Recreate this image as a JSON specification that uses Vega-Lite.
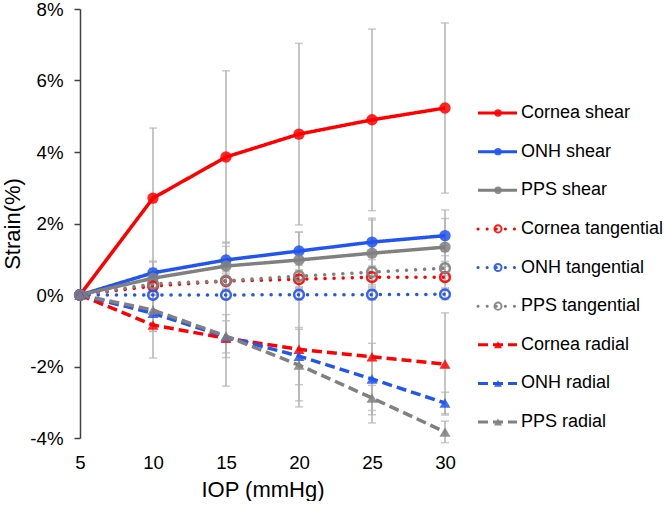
{
  "$schema": "https://vega.github.io/schema/vega-lite/v6.json",
  "background": "white",
  "padding": {"left": 1, "top": 0, "right": 0, "bottom": 0},
  "bounds": "flush",
  "spacing": 23,
  "config": {"view": {"stroke": null}, "font": "Liberation Sans"},
  "datasets": {
    "strain": [
      {"series": "Cornea shear", "iop": 5, "value": 0, "sd": 0},
      {"series": "Cornea shear", "iop": 10, "value": 2.71, "sd": 1.96},
      {"series": "Cornea shear", "iop": 15, "value": 3.86, "sd": 2.41},
      {"series": "Cornea shear", "iop": 20, "value": 4.5, "sd": 2.54},
      {"series": "Cornea shear", "iop": 25, "value": 4.9, "sd": 2.54},
      {"series": "Cornea shear", "iop": 30, "value": 5.23, "sd": 2.38},
      {"series": "ONH shear", "iop": 5, "value": 0, "sd": 0},
      {"series": "ONH shear", "iop": 10, "value": 0.62, "sd": 0.33},
      {"series": "ONH shear", "iop": 15, "value": 0.98, "sd": 0.5},
      {"series": "ONH shear", "iop": 20, "value": 1.23, "sd": 0.53},
      {"series": "ONH shear", "iop": 25, "value": 1.48, "sd": 0.67},
      {"series": "ONH shear", "iop": 30, "value": 1.66, "sd": 0.72},
      {"series": "PPS shear", "iop": 5, "value": 0, "sd": 0},
      {"series": "PPS shear", "iop": 10, "value": 0.47, "sd": 0.45},
      {"series": "PPS shear", "iop": 15, "value": 0.81, "sd": 0.55},
      {"series": "PPS shear", "iop": 20, "value": 0.98, "sd": 0.78},
      {"series": "PPS shear", "iop": 25, "value": 1.17, "sd": 0.93},
      {"series": "PPS shear", "iop": 30, "value": 1.34, "sd": 0.8},
      {"series": "Cornea tangential", "iop": 5, "value": 0, "sd": 0},
      {"series": "Cornea tangential", "iop": 10, "value": 0.25, "sd": 0.15},
      {"series": "Cornea tangential", "iop": 15, "value": 0.39, "sd": 0.2},
      {"series": "Cornea tangential", "iop": 20, "value": 0.44, "sd": 0.25},
      {"series": "Cornea tangential", "iop": 25, "value": 0.5, "sd": 0.3},
      {"series": "Cornea tangential", "iop": 30, "value": 0.5, "sd": 0.3},
      {"series": "ONH tangential", "iop": 5, "value": 0, "sd": 0},
      {"series": "ONH tangential", "iop": 10, "value": 0.0, "sd": 0.1},
      {"series": "ONH tangential", "iop": 15, "value": 0.0, "sd": 0.12},
      {"series": "ONH tangential", "iop": 20, "value": 0.01, "sd": 0.15},
      {"series": "ONH tangential", "iop": 25, "value": 0.01, "sd": 0.15},
      {"series": "ONH tangential", "iop": 30, "value": 0.02, "sd": 0.15},
      {"series": "PPS tangential", "iop": 5, "value": 0, "sd": 0},
      {"series": "PPS tangential", "iop": 10, "value": 0.31, "sd": 0.2},
      {"series": "PPS tangential", "iop": 15, "value": 0.4, "sd": 0.25},
      {"series": "PPS tangential", "iop": 20, "value": 0.53, "sd": 0.3},
      {"series": "PPS tangential", "iop": 25, "value": 0.64, "sd": 0.35},
      {"series": "PPS tangential", "iop": 30, "value": 0.75, "sd": 0.35},
      {"series": "Cornea radial", "iop": 5, "value": 0, "sd": 0},
      {"series": "Cornea radial", "iop": 10, "value": -0.84, "sd": 0.92},
      {"series": "Cornea radial", "iop": 15, "value": -1.21, "sd": 1.34},
      {"series": "Cornea radial", "iop": 20, "value": -1.52, "sd": 1.61},
      {"series": "Cornea radial", "iop": 25, "value": -1.73, "sd": 1.85},
      {"series": "Cornea radial", "iop": 30, "value": -1.93, "sd": 1.43},
      {"series": "ONH radial", "iop": 5, "value": 0, "sd": 0},
      {"series": "ONH radial", "iop": 10, "value": -0.51, "sd": 0.5},
      {"series": "ONH radial", "iop": 15, "value": -1.17, "sd": 0.45},
      {"series": "ONH radial", "iop": 20, "value": -1.71, "sd": 0.8},
      {"series": "ONH radial", "iop": 25, "value": -2.35, "sd": 1.0},
      {"series": "ONH radial", "iop": 30, "value": -3.02, "sd": 0.3},
      {"series": "PPS radial", "iop": 5, "value": 0, "sd": 0},
      {"series": "PPS radial", "iop": 10, "value": -0.42, "sd": 0.6},
      {"series": "PPS radial", "iop": 15, "value": -1.15, "sd": 0.6},
      {"series": "PPS radial", "iop": 20, "value": -1.96, "sd": 1.0},
      {"series": "PPS radial", "iop": 25, "value": -2.88, "sd": 0.35},
      {"series": "PPS radial", "iop": 30, "value": -3.83, "sd": 0.3}
    ],
    "legend": [
      {"series": "Cornea shear"}, {"series": "ONH shear"}, {"series": "PPS shear"},
      {"series": "Cornea tangential"}, {"series": "ONH tangential"}, {"series": "PPS tangential"},
      {"series": "Cornea radial"}, {"series": "ONH radial"}, {"series": "PPS radial"}
    ]
  },
  "hconcat": [
    {
      "width": 365,
      "height": 429,
      "data": {"name": "strain"},
      "encoding": {
        "x": {"field": "iop", "type": "quantitative",
          "scale": {"domain": [5, 30], "nice": false},
          "axis": {"values": [5, 10, 15, 20, 25, 30], "domain": false, "ticks": false, "grid": false, "labelFlush": false,
            "labelFontSize": 18.67, "labelColor": "#000", "labelPadding": 15,
            "title": "IOP (mmHg)", "titleFontSize": 22, "titleFontWeight": "normal", "titleColor": "#000", "titlePadding": 8}},
        "y": {"field": "value", "type": "quantitative",
          "scale": {"domain": [-4, 8], "nice": false},
          "axis": {"values": [-4, -2, 0, 2, 4, 6, 8], "labelExpr": "datum.value + '%'", "grid": false, "labelFlush": false,
            "domainColor": "#404040", "domainWidth": 1.5, "tickColor": "#404040", "tickWidth": 1.5, "tickSize": 6,
            "labelPadding": 11, "labelFontSize": 18.67, "labelColor": "#000",
            "title": "Strain(%)", "titleFontSize": 22, "titleFontWeight": "normal", "titleColor": "#000", "titlePadding": 5}}
      },
      "layer": [
        {
          "mark": {"type": "errorbar", "ticks": true, "size": 8, "thickness": 1.5, "color": "#B3B3B3"},
          "encoding": {"yError": {"field": "sd"}}
        },
        {
          "transform": [{"filter": {"field": "series", "oneOf": ["Cornea shear", "ONH shear", "PPS shear", "Cornea radial", "ONH radial", "PPS radial"]}}],
          "mark": {"type": "line", "strokeWidth": 3.5, "strokeCap": "butt"},
          "encoding": {
            "color": {"field": "series", "type": "nominal", "legend": null,
              "scale": {"domain": ["Cornea shear", "ONH shear", "PPS shear", "Cornea tangential", "ONH tangential", "PPS tangential", "Cornea radial", "ONH radial", "PPS radial"],
                "range": ["#FF0000", "#2255F0", "#808080", "#FF0000", "#2255F0", "#808080", "#FF0000", "#2255F0", "#808080"]}},
            "strokeDash": {"field": "series", "type": "nominal", "legend": null,
              "scale": {"domain": ["Cornea shear", "ONH shear", "PPS shear", "Cornea tangential", "ONH tangential", "PPS tangential", "Cornea radial", "ONH radial", "PPS radial"],
                "range": [[1, 0], [1, 0], [1, 0], [0.1, 9], [0.1, 9], [0.1, 9], [10, 5], [10, 5], [10, 5]]}}
          }
        },
        {
          "transform": [{"filter": {"field": "series", "oneOf": ["Cornea tangential", "ONH tangential", "PPS tangential"]}}],
          "mark": {"type": "line", "strokeWidth": 3.5, "strokeCap": "round"},
          "encoding": {
            "color": {"field": "series", "type": "nominal", "legend": null},
            "strokeDash": {"field": "series", "type": "nominal", "legend": null}
          }
        },
        {
          "transform": [{"filter": {"field": "series", "oneOf": ["Cornea shear", "ONH shear", "PPS shear"]}}],
          "mark": {"type": "point", "shape": "circle", "filled": true, "size": 130, "opacity": 0.85},
          "encoding": {"color": {"field": "series", "type": "nominal", "legend": null}}
        },
        {
          "transform": [{"filter": {"field": "series", "oneOf": ["Cornea tangential", "ONH tangential", "PPS tangential"]}}],
          "mark": {"type": "point", "shape": "circle", "filled": false, "size": 95, "strokeWidth": 2.5, "opacity": 0.9},
          "encoding": {"color": {"field": "series", "type": "nominal", "legend": null}}
        },
        {
          "transform": [{"filter": {"field": "series", "oneOf": ["Cornea radial", "ONH radial", "PPS radial"]}}],
          "mark": {"type": "point", "shape": "triangle-up", "filled": true, "size": 120, "opacity": 0.85},
          "encoding": {"color": {"field": "series", "type": "nominal", "legend": null}}
        }
      ]
    },
    {
      "width": 200,
      "height": 429,
      "data": {"name": "legend"},
      "encoding": {
        "y": {"field": "series", "type": "nominal", "axis": null,
          "scale": {"type": "point", "domain": ["Cornea shear", "ONH shear", "PPS shear", "Cornea tangential", "ONH tangential", "PPS tangential", "Cornea radial", "ONH radial", "PPS radial"],
            "range": [104, 413], "padding": 0}}
      },
      "layer": [
        {
          "transform": [{"filter": {"field": "series", "oneOf": ["Cornea shear", "ONH shear", "PPS shear", "Cornea radial", "ONH radial", "PPS radial"]}}],
          "mark": {"type": "rule", "strokeWidth": 3, "strokeCap": "butt"},
          "encoding": {
            "x": {"datum": 0.5, "type": "quantitative", "scale": {"domain": [0, 10]}, "axis": null},
            "x2": {"datum": 2.45},
            "color": {"field": "series", "type": "nominal", "legend": null},
            "strokeDash": {"field": "series", "type": "nominal", "legend": null}
          }
        },
        {
          "transform": [{"filter": {"field": "series", "oneOf": ["Cornea tangential", "ONH tangential", "PPS tangential"]}}],
          "mark": {"type": "rule", "strokeWidth": 3, "strokeCap": "round"},
          "encoding": {
            "x": {"datum": 0.5, "type": "quantitative"},
            "x2": {"datum": 2.45},
            "color": {"field": "series", "type": "nominal", "legend": null},
            "strokeDash": {"field": "series", "type": "nominal", "legend": null}
          }
        },
        {
          "transform": [{"filter": {"field": "series", "oneOf": ["Cornea shear", "ONH shear", "PPS shear"]}}],
          "mark": {"type": "point", "shape": "circle", "filled": true, "size": 55, "opacity": 0.9},
          "encoding": {"x": {"datum": 1.5, "type": "quantitative"}, "color": {"field": "series", "type": "nominal", "legend": null}}
        },
        {
          "transform": [{"filter": {"field": "series", "oneOf": ["Cornea tangential", "ONH tangential", "PPS tangential"]}}],
          "mark": {"type": "point", "shape": "circle", "filled": false, "size": 50, "strokeWidth": 2, "opacity": 0.9},
          "encoding": {"x": {"datum": 1.5, "type": "quantitative"}, "color": {"field": "series", "type": "nominal", "legend": null}}
        },
        {
          "transform": [{"filter": {"field": "series", "oneOf": ["Cornea radial", "ONH radial", "PPS radial"]}}],
          "mark": {"type": "point", "shape": "triangle-up", "filled": true, "size": 64, "opacity": 0.9},
          "encoding": {"x": {"datum": 1.5, "type": "quantitative"}, "color": {"field": "series", "type": "nominal", "legend": null}}
        },
        {
          "mark": {"type": "text", "align": "left", "baseline": "middle", "fontSize": 18, "color": "#000"},
          "encoding": {"x": {"datum": 2.65, "type": "quantitative"}, "text": {"field": "series"}}
        }
      ]
    }
  ]
}
